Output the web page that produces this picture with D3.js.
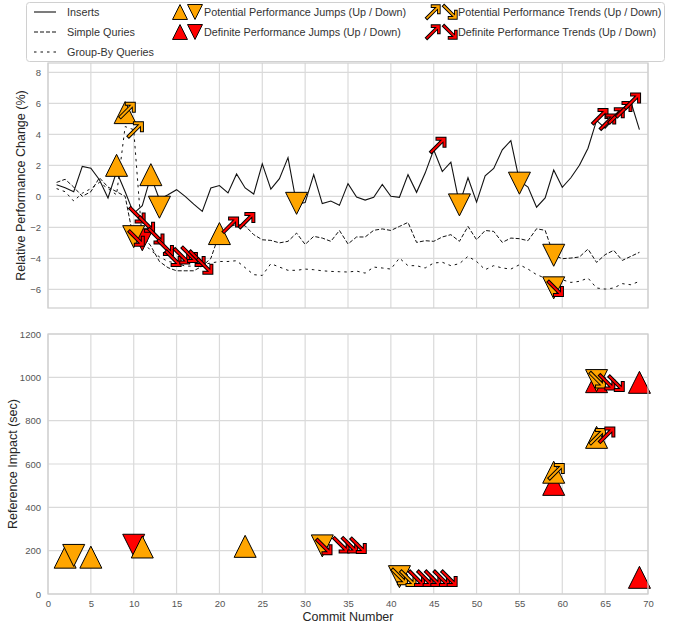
<!DOCTYPE html>
<html>
<head>
<meta charset="utf-8">
<title>performance changes</title>
<script src="https://cdn.jsdelivr.net/npm/d3@7"></script>
<style>
  body { margin: 0; background: #fff; }
  text { font-family: "Liberation Sans", Arial, sans-serif; }
</style>
</head>
<body>
<div id="chart"></div>
<script>
// ---- data ----
var commits = d3.range(1, 70);
var inserts = [0.75, 0.55, 0.3, 1.93, 1.82, 1.07, -0.1, 1.6, 0.3, -1.1,
  -0.6, 1.3, -0.2, 0.1, 0.43, 0.0, -0.5, -0.97, 0.54, 0.7,
  0.22, 1.44, 0.54, 0.15, 2.1, 0.47, 1.14, 2.5, -0.5, -0.4,
  1.4, -0.47, -0.3, -0.58, 0.82, -0.04, -0.24, -0.06, 0.77, 0.0,
  -0.06, 1.4, 0.26, 1.5, 3.0, 1.6, 2.2, -0.5, 1.2, -0.37,
  1.33, 1.8, 3.0, 3.6, 1.0, 0.6, -0.7, -0.1, 1.7, 0.58,
  1.2, 2.0, 3.1, 4.9, 4.4, 5.0, 5.6, 6.1, 4.3];
var simpleQueries = [0.9, 1.1, 0.6, 0.0, 0.3, 1.2, 0.6, 0.3, 0.0, -2.8,
  -2.5, -3.2, -4.2, -4.6, -4.8, -4.8, -4.8, -4.5, -4.0, -2.4,
  -2.0, -1.8, -1.9, -2.47, -2.8, -2.84, -3.0, -2.9, -2.37, -3.1,
  -2.58, -2.69, -2.9, -2.2, -3.07, -2.62, -2.62, -2.19, -2.1, -2.2,
  -1.94, -1.68, -2.97, -2.86, -2.9, -2.62, -2.47, -2.9, -1.94, -2.8,
  -2.2, -2.26, -2.97, -2.69, -2.73, -2.86, -2.09, -2.19, -3.8, -4.02,
  -3.98, -3.91, -3.4, -4.26, -3.76, -3.48, -4.13, -3.87, -3.61];
var groupByQueries = [0.5, 0.3, -0.3, 0.2, 0.5, 0.9, 0.5, 0.1, 4.5, 4.3,
  -2.9, -3.5, -3.9, -4.2, -4.3, -4.5, -4.5, -4.4, -4.3, -4.2,
  -4.2, -4.15, -4.6, -5.05, -5.1, -4.34, -4.56, -4.77, -4.77, -4.69,
  -4.73, -4.8, -4.84, -4.86, -4.88, -4.82, -4.95, -4.56, -4.62, -4.69,
  -3.98, -4.47, -4.47, -4.62, -4.3, -4.25, -4.47, -4.34, -3.87, -4.2,
  -4.73, -4.47, -4.62, -4.69, -4.41, -4.69, -5.05, -5.27, -5.9, -5.38,
  -5.55, -5.48, -5.27, -5.91, -5.98, -5.91, -5.63, -5.7, -5.48];

// markers, [commit, value]
var topPotJumpUp = [[8, 2.0], [9, 5.4], [12, 1.4], [20, -2.4]];
var topPotJumpDown = [[10, -2.6], [13, -0.7], [29, -0.45], [48, -0.55], [55, 0.85], [59, -3.8], [59, -5.9]];
var topDefJumpDown = [[11, -2.8]];
var topPotTrendUp = [[9.25, 5.55], [10.2, 4.3]];
var topDefTrendUp = [[21.3, -1.85], [23.2, -1.55], [45.5, 3.3], [64.4, 5.15], [65.3, 4.8], [66.3, 5.2], [67.2, 5.6], [68.2, 6.15]];
var topDefTrendDown = [[10.4, -1.2], [11.5, -1.8], [12.6, -2.55], [13.7, -3.3], [14.6, -4.0], [15.6, -3.85],
  [16.5, -3.75], [17.4, -4.0], [18.3, -4.5], [10.3, -2.7], [59.2, -5.95]];

var botPotJumpUp = [[2, 170], [5, 170], [11, 217], [23, 220], [59, 562], [64, 723]];
var botPotJumpDown = [[3, 178], [32, 222], [41, 80], [64, 985]];
var botDefJumpUp = [[59, 506], [64, 980], [69, 977], [69, 77]];
var botDefJumpDown = [[10, 225]];
var botPotTrendUp = [[59.3, 565], [64.1, 727]];
var botPotTrendDown = [[41.0, 80], [42.0, 72], [64.1, 988]];
var botDefTrendUp = [[65.2, 734]];
var botDefTrendDown = [[32.2, 218], [34.2, 226], [35.2, 226], [36.2, 224],
  [43.0, 72], [44.0, 72], [44.9, 72], [45.9, 72], [46.8, 72], [65.2, 978], [66.3, 972]];

var xTicks = d3.range(0, 71, 5);
var topTicks = d3.range(-6, 9, 2);
var botTicks = d3.range(0, 1201, 200);

// ---- layout ----
var W = 681, H = 627;
var svg = d3.select("#chart").append("svg").attr("width", W).attr("height", H);

var x = d3.scaleLinear().domain([0, 70]).range([48, 648]);
var yTop = d3.scaleLinear().domain([-7.2, 8.6]).range([308, 63]);
var yBot = d3.scaleLinear().domain([0, 1200]).range([594, 334]);

var ORANGE = "#FFA500", RED = "#FF0000";

function panel(ys, yTickVals, showX) {
  var g = svg.append("g");
  var y0 = ys.range()[0], y1 = ys.range()[1];
  g.append("rect").attr("x", 48).attr("y", y1).attr("width", 600).attr("height", y0 - y1)
    .attr("fill", "#fff");
  // grid
  g.append("g").selectAll("line").data(xTicks).enter().append("line")
    .attr("x1", d => x(d)).attr("x2", d => x(d)).attr("y1", y1).attr("y2", y0)
    .attr("stroke", "#dadada").attr("stroke-width", 1.2);
  g.append("g").selectAll("line").data(yTickVals).enter().append("line")
    .attr("x1", 48).attr("x2", 648).attr("y1", d => ys(d)).attr("y2", d => ys(d))
    .attr("stroke", "#dadada").attr("stroke-width", 1.2);
  // axes
  var ya = g.append("g").attr("transform", "translate(48,0)")
    .call(d3.axisLeft(ys).tickValues(yTickVals).tickSize(0).tickPadding(7).tickFormat(d3.format("d")));
  ya.select(".domain").remove();
  ya.selectAll("text").attr("font-size", 9.5).attr("fill", "#555")
    .attr("font-family", "Liberation Sans, Arial, sans-serif");
  if (showX) {
    var xa = g.append("g").attr("transform", "translate(0," + y0 + ")")
      .call(d3.axisBottom(x).tickValues(xTicks).tickSize(0).tickPadding(6));
    xa.select(".domain").remove();
    xa.selectAll("text").attr("font-size", 9.5).attr("fill", "#555")
      .attr("font-family", "Liberation Sans, Arial, sans-serif");
  }
  return g;
}

function frame(ys) {
  var y0 = ys.range()[0], y1 = ys.range()[1];
  svg.append("rect").attr("x", 48).attr("y", y1).attr("width", 600).attr("height", y0 - y1)
    .attr("fill", "none").attr("stroke", "#cfcfcf").attr("stroke-width", 1.25);
}

var triUp = "M0,-11L11,11L-11,11Z", triDown = "M0,11L11,-11L-11,-11Z";
var arrUp = "M-6.5,6.5L5.5,-5.5M-0.5,-6.5L6.5,-6.5L6.5,0.5";

function triangles(g, data, ys, up, fill) {
  g.append("g").selectAll("path").data(data).enter().append("path")
    .attr("d", up ? triUp : triDown)
    .attr("transform", d => "translate(" + x(d[0]) + "," + ys(d[1]) + ")")
    .attr("fill", fill).attr("stroke", "#000").attr("stroke-width", 1);
}

function arrows(g, data, ys, up, fill) {
  var a = g.append("g").selectAll("g").data(data).enter().append("g")
    .attr("transform", d => "translate(" + x(d[0]) + "," + ys(d[1]) + ")" + (up ? "" : " scale(1,-1)"));
  a.append("path").attr("d", arrUp).attr("fill", "none").attr("stroke", "#000")
    .attr("stroke-width", 4).attr("stroke-linejoin", "miter").attr("stroke-linecap", "square");
  a.append("path").attr("d", arrUp).attr("fill", "none").attr("stroke", fill)
    .attr("stroke-width", 2).attr("stroke-linejoin", "miter").attr("stroke-linecap", "square");
}

// ---- top panel ----
var gt = panel(yTop, topTicks, false);
var line = d3.line().x((d, i) => x(commits[i])).y(d => yTop(d));
gt.append("path").attr("d", line(inserts)).attr("fill", "none").attr("stroke", "#111").attr("stroke-width", 1.1);
gt.append("path").attr("d", line(simpleQueries)).attr("fill", "none").attr("stroke", "#111")
  .attr("stroke-width", 1).attr("stroke-dasharray", "4,2");
gt.append("path").attr("d", line(groupByQueries)).attr("fill", "none").attr("stroke", "#111")
  .attr("stroke-width", 1).attr("stroke-dasharray", "2.5,4");
frame(yTop);
triangles(gt, topDefJumpDown, yTop, false, RED);
triangles(gt, topPotJumpUp, yTop, true, ORANGE);
triangles(gt, topPotJumpDown, yTop, false, ORANGE);
arrows(gt, topPotTrendUp, yTop, true, ORANGE);
arrows(gt, topDefTrendUp, yTop, true, RED);
arrows(gt, topDefTrendDown, yTop, false, RED);

// ---- bottom panel ----
var gb = panel(yBot, botTicks, true);
frame(yBot);
triangles(gb, botDefJumpUp, yBot, true, RED);
triangles(gb, botDefJumpDown, yBot, false, RED);
triangles(gb, botPotJumpUp, yBot, true, ORANGE);
triangles(gb, botPotJumpDown, yBot, false, ORANGE);
arrows(gb, botPotTrendUp, yBot, true, ORANGE);
arrows(gb, botPotTrendDown, yBot, false, ORANGE);
arrows(gb, botDefTrendUp, yBot, true, RED);
arrows(gb, botDefTrendDown, yBot, false, RED);

// ---- axis labels ----
svg.append("text").attr("transform", "translate(25," + yTop(0.7) + ") rotate(-90)")
  .attr("text-anchor", "middle").attr("font-size", 12.5).attr("fill", "#262626")
  .text("Relative Performance Change (%)");
svg.append("text").attr("transform", "translate(17," + yBot(600) + ") rotate(-90)")
  .attr("text-anchor", "middle").attr("font-size", 12.5).attr("fill", "#262626")
  .text("Reference Impact (sec)");
svg.append("text").attr("x", x(35)).attr("y", 621).attr("text-anchor", "middle")
  .attr("font-size", 12.5).attr("fill", "#262626").text("Commit Number");

// ---- legend ----
var lg = svg.append("g");
lg.append("rect").attr("x", 26.5).attr("y", 2.5).attr("width", 638).attr("height", 59).attr("rx", 3)
  .attr("fill", "#fff").attr("fill-opacity", 0.85).attr("stroke", "#d0d0d0");
var rows = [12, 32, 52];
var lineItems = [["Inserts", null], ["Simple Quries", "4,2"], ["Group-By Queries", "2.5,4"]];
lineItems.forEach(function (it, i) {
  lg.append("line").attr("x1", 34).attr("x2", 56).attr("y1", rows[i]).attr("y2", rows[i])
    .attr("stroke", "#111").attr("stroke-width", 1.1).attr("stroke-dasharray", it[1]);
  lg.append("text").attr("x", 67).attr("y", rows[i] + 4).attr("font-size", 10.8).attr("fill", "#333").text(it[0]);
});
var jumpItems = [["Potential Performance Jumps (Up / Down)", ORANGE], ["Definite Performance Jumps (Up / Down)", RED]];
jumpItems.forEach(function (it, i) {
  lg.append("path").attr("d", triUp).attr("transform", "translate(180," + rows[i] + ") scale(0.68)")
    .attr("fill", it[1]).attr("stroke", "#000").attr("stroke-width", 1.4);
  lg.append("path").attr("d", triDown).attr("transform", "translate(195," + rows[i] + ") scale(0.68)")
    .attr("fill", it[1]).attr("stroke", "#000").attr("stroke-width", 1.4);
  lg.append("text").attr("x", 204).attr("y", rows[i] + 4).attr("font-size", 10.8).attr("fill", "#333").text(it[0]);
});
var trendItems = [["Potential Performance Trends (Up / Down)", ORANGE], ["Definite Performance Trends (Up / Down)", RED]];
trendItems.forEach(function (it, i) {
  [[433, true], [450, false]].forEach(function (p) {
    var a = lg.append("g").attr("transform", "translate(" + p[0] + "," + rows[i] + ") scale(0.9," + (p[1] ? 0.9 : -0.9) + ")");
    a.append("path").attr("d", arrUp).attr("fill", "none").attr("stroke", "#000").attr("stroke-width", 4).attr("stroke-linecap", "square");
    a.append("path").attr("d", arrUp).attr("fill", "none").attr("stroke", it[1]).attr("stroke-width", 2).attr("stroke-linecap", "square");
  });
  lg.append("text").attr("x", 458).attr("y", rows[i] + 4).attr("font-size", 10.8).attr("fill", "#333").text(it[0]);
});
</script>
</body>
</html>
